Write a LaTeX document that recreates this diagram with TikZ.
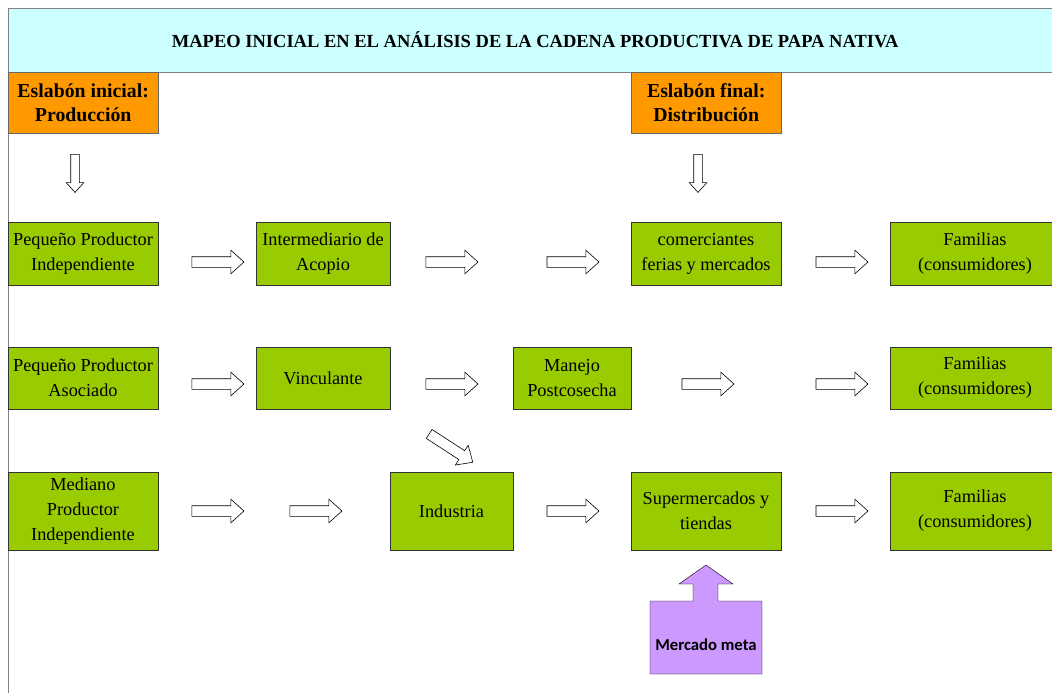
\documentclass[tikz,border=0pt]{standalone}
\usepackage{fontspec}
\setmainfont{Liberation Serif}
\newfontfamily\calibri{Carlito}
\usetikzlibrary{shapes.arrows}
\definecolor{verde}{HTML}{99CC00}
\definecolor{naranja}{HTML}{FF9900}
\definecolor{celeste}{HTML}{CCFFFF}
\definecolor{lila}{HTML}{CC99FF}

\begin{document}
\begin{tikzpicture}[x=1pt, y=-1pt,
    eslabon/.style={draw=black!80, fill=verde, align=center, inner sep=0pt,
        font=\fontsize{18.3}{25}\selectfont},
    etapa/.style={draw=black!60, fill=naranja, align=center, inner sep=0pt,
        minimum width=150pt, minimum height=61pt,
        font=\bfseries\fontsize{19.8}{24}\selectfont},
    flecha/.style={single arrow, draw, line width=0.6pt, fill=white, inner xsep=0pt, inner ysep=5pt,
        minimum height=52pt, single arrow head extend=6.5pt, single arrow tip angle=84},
    flechita/.style={flecha, inner ysep=4pt, minimum height=38pt,
        single arrow head extend=4.5pt}]

    \useasboundingbox (0,0) rectangle (1052,693);

    % Title band and frame
    \node[draw=black!50, fill=celeste, anchor=north west, minimum width=1054pt, minimum height=64pt,
        font=\bfseries\fontsize{18.5}{20}\selectfont] (titulo) at (8,8)
        {MAPEO INICIAL EN EL ANÁLISIS DE LA CADENA PRODUCTIVA DE PAPA NATIVA};
    \draw[black!50] (8,72) -- (8,693);

    % Eslabones
    \node[etapa, anchor=north west] (ini) at (8,72) {Eslabón inicial:\\Producción};
    \node[etapa, anchor=north west] (fin) at (631,72) {Eslabón final:\\Distribución};
    \node[flechita, rotate=-90] (bini) at (75,171) {};
    \node[flechita, rotate=-90] (bfin) at (698,171) {};

    % Row 1
    \node[eslabon, minimum width=150pt, minimum height=63pt] (pp1) at (83,253.5) {Pequeño Productor\\Independiente};
    \node[eslabon, minimum width=134pt, minimum height=63pt] (ia) at (323,253.5) {Intermediario de\\Acopio};
    \node[eslabon, minimum width=150pt, minimum height=63pt] (cf) at (706,253.5) {comerciantes\\ferias y mercados};
    \node[eslabon, minimum width=170pt, minimum height=63pt] (fam1) at (975,253.5) {Familias\\(consumidores)};
    \node[flecha] (f11) at (215,262) {};
    \node[flecha] (f12) at (449,262) {};
    \node[flecha] (f13) at (570,262) {};
    \node[flecha] (f14) at (839,262) {};

    % Row 2
    \node[eslabon, minimum width=150pt, minimum height=62pt] (ppa) at (83,378) {Pequeño Productor\\Asociado};
    \node[eslabon, minimum width=134pt, minimum height=62pt] (vin) at (323,378) {Vinculante};
    \node[eslabon, minimum width=118pt, minimum height=62pt] (mp) at (572,378) {Manejo\\Postcosecha};
    \node[eslabon, minimum width=170pt, minimum height=62pt] (fam2) at (975,378) {Familias\\(consumidores)};
    \node[flecha] (f21) at (215,384) {};
    \node[flecha] (f22) at (449,384) {};
    \node[flecha] (f23) at (705,384) {};
    \node[flecha] (f24) at (839,384) {};
    \node[flecha, rotate=-33] (fdiag) at (448.5,446.5) {};

    % Row 3
    \node[eslabon, minimum width=150pt, minimum height=78pt] (mpi) at (83,511) {Mediano\\Productor\\Independiente};
    \node[eslabon, minimum width=123pt, minimum height=78pt] (ind) at (451.5,511) {Industria};
    \node[eslabon, minimum width=150pt, minimum height=78pt] (sup) at (706,511) {Supermercados y\\tiendas};
    \node[eslabon, minimum width=170pt, minimum height=78pt] (fam3) at (975,511) {Familias\\(consumidores)};
    \node[flecha] (f31) at (215,511) {};
    \node[flecha] (f32) at (313,511) {};
    \node[flecha] (f33) at (570,511) {};
    \node[flecha] (f34) at (839,511) {};

    % Mercado meta
    \draw[fill=lila] (650,601) -- (693,601) -- (693,584) -- (679,584) -- (706,565) -- (733,584)
        -- (718,584) -- (718,601) -- (762,601) -- (762,674) -- (650,674) -- cycle;
    \node[font=\calibri\bfseries\fontsize{16.7}{18}\selectfont] (meta) at (706,645) {Mercado meta};

\end{tikzpicture}
\end{document}
